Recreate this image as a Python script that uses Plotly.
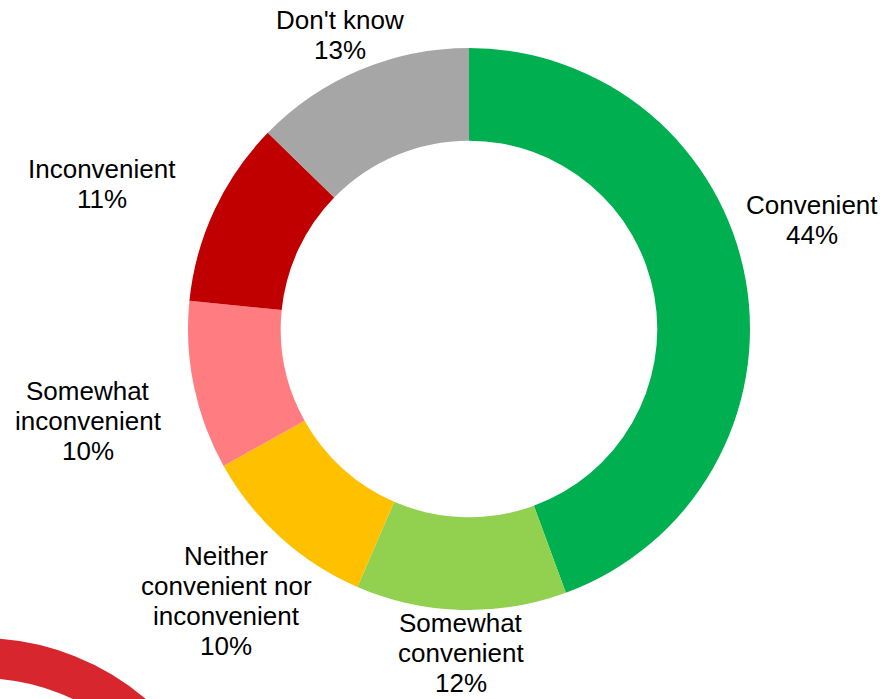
import plotly.graph_objects as go

W, H = 883, 699

categories = ["Convenient", "Somewhat<br>convenient", "Neither<br>convenient nor<br>inconvenient",
              "Somewhat<br>inconvenient", "Inconvenient", "Don't know"]
values = [44.4, 12.1, 10.4, 9.7, 10.7, 12.7]
colors = ["#00B050", "#92D050", "#FFC000", "#FF7C80", "#C00000", "#A6A6A6"]

# label block centres (pixels from top-left)
label_pos = [(812, 220), (461, 653), (226, 601), (88, 421), (102, 184), (340, 35)]
LINE_PX = 30
FONT_SIZE = 26

# donut geometry in pixels
cx, cy, R = 469, 329, 281

fig = go.Figure(go.Pie(
    labels=[c.replace("<br>", " ") for c in categories],
    values=values,
    marker=dict(colors=colors, line=dict(width=0)),
    hole=0.67,
    sort=False,
    direction="clockwise",
    rotation=0,
    textinfo="none",
    hoverinfo="label+percent",
    showlegend=False,
    domain=dict(x=[(cx - R) / W, (cx + R) / W], y=[1 - (cy + R) / H, 1 - (cy - R) / H]),
))

total = sum(values)
for cat, v, (px, py) in zip(categories, values, label_pos):
    lines = cat.split("<br>") + [f"{round(100 * v / total)}%"]
    n = len(lines)
    for i, ln in enumerate(lines):
        ly = py + (i - (n - 1) / 2) * LINE_PX
        fig.add_annotation(
            x=px / W, y=1 - ly / H, xref="paper", yref="paper",
            text=ln, showarrow=False, xanchor="center", yanchor="middle",
            font=dict(family="Liberation Sans, Arial, sans-serif", size=FONT_SIZE, color="#000000"),
        )

# decorative red arc in the bottom-left corner
acx, acy, ar = -20, 894, 236
fig.add_shape(
    type="circle", xref="paper", yref="paper",
    x0=(acx - ar) / W, x1=(acx + ar) / W,
    y0=1 - (acy + ar) / H, y1=1 - (acy - ar) / H,
    line=dict(color="#D7262E", width=40), fillcolor="rgba(0,0,0,0)", layer="below",
)

fig.update_layout(
    width=W, height=H,
    margin=dict(l=0, r=0, t=0, b=0),
    paper_bgcolor="white", plot_bgcolor="white",
)

fig.write_html("out.html")
